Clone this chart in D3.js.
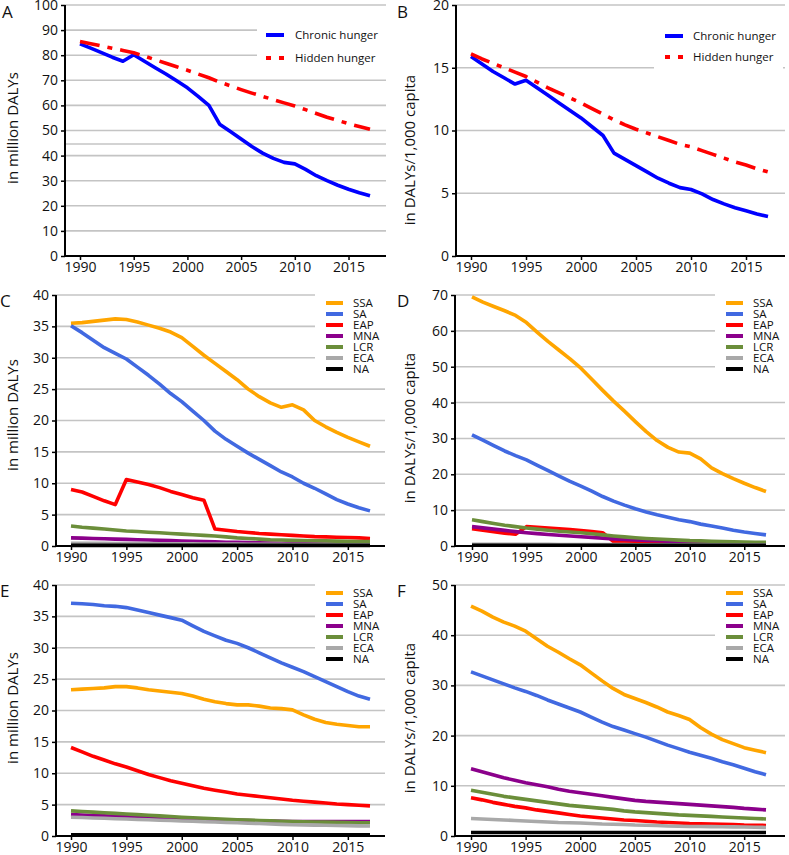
<!DOCTYPE html>
<html><head><meta charset="utf-8">
<script src="https://cdn.jsdelivr.net/npm/d3@7"></script>
<style>
body{margin:0;background:#fff;}
svg{display:block;font-family:"Open Sans",sans-serif;}
</style></head>
<body><svg id="c" width="789" height="855"></svg>
<script>
const years = [1990,1991,1992,1993,1994,1995,1996,1997,1998,1999,2000,2001,2002,2003,2004,2005,2006,2007,2008,2009,2010,2011,2012,2013,2014,2015,2016,2017];
const xTickYears = [1990,1995,2000,2005,2010,2015];
const hungerNames = ["Chronic hunger","Hidden hunger"];
const regionNames = ["SSA","SA","EAP","MNA","LCR","ECA","NA"];

// Panel A: million DALYs
const A_chronic = [84.5,82.8,81.0,79.2,77.6,80.2,77.6,75.0,72.5,69.8,67.0,63.6,60.0,52.5,49.6,46.6,43.6,41.0,38.9,37.3,36.7,34.5,32.0,30.0,28.2,26.6,25.2,24.0];
const A_hidden  = [85.5,84.6,83.7,82.8,81.9,81.0,79.6,78.2,76.8,75.4,74.0,72.5,71.0,69.3,67.8,66.3,64.9,63.6,62.3,61.0,59.8,58.3,56.8,55.3,54.0,52.7,51.6,50.5];
// Panel B: DALYs/1,000 capita
const B_chronic = [15.9,15.3,14.7,14.2,13.7,14.0,13.4,12.8,12.2,11.6,11.0,10.3,9.6,8.2,7.7,7.2,6.7,6.2,5.8,5.45,5.3,4.95,4.5,4.15,3.85,3.6,3.35,3.15];
const B_hidden  = [16.1,15.7,15.35,15.0,14.65,14.3,13.85,13.4,13.0,12.6,12.2,11.75,11.3,10.85,10.45,10.1,9.8,9.5,9.2,8.9,8.7,8.4,8.1,7.8,7.5,7.25,6.95,6.7];

// Panel C: chronic hunger by region, million DALYs
const C_SSA = [35.5,35.6,35.8,36.0,36.2,36.1,35.7,35.2,34.7,34.1,33.2,31.8,30.4,29.1,27.8,26.5,25.0,23.8,22.8,22.1,22.5,21.7,20.0,19.0,18.1,17.3,16.6,15.9];
const C_SA  = [35.1,34.0,32.8,31.6,30.7,29.8,28.5,27.2,25.8,24.3,23.0,21.5,20.0,18.3,17.0,15.9,14.8,13.8,12.8,11.8,11.0,10.0,9.2,8.3,7.4,6.7,6.1,5.6];
const C_EAP = [9.0,8.6,7.9,7.2,6.6,10.6,10.2,9.8,9.3,8.7,8.2,7.7,7.3,2.7,2.5,2.3,2.15,2.0,1.9,1.8,1.7,1.6,1.5,1.45,1.4,1.35,1.3,1.2];
const C_MNA = [1.3,1.25,1.2,1.15,1.1,1.05,1.0,0.95,0.9,0.85,0.8,0.75,0.7,0.65,0.6,0.57,0.54,0.51,0.48,0.45,0.43,0.41,0.39,0.37,0.35,0.33,0.32,0.3];
const C_LCR = [3.2,3.0,2.85,2.7,2.55,2.4,2.3,2.2,2.1,2.0,1.9,1.8,1.7,1.6,1.45,1.3,1.2,1.1,1.0,0.95,0.9,0.87,0.84,0.81,0.78,0.75,0.72,0.7];
const C_ECA = [0.45,0.44,0.43,0.42,0.41,0.4,0.39,0.38,0.37,0.36,0.35,0.34,0.33,0.32,0.31,0.3,0.29,0.28,0.27,0.26,0.25,0.24,0.23,0.22,0.21,0.2,0.2,0.2];
const C_NA  = [0.1,0.1,0.1,0.1,0.1,0.1,0.1,0.1,0.1,0.1,0.1,0.1,0.1,0.1,0.1,0.1,0.1,0.1,0.1,0.1,0.1,0.1,0.1,0.1,0.1,0.1,0.1,0.1];

// Panel D: chronic hunger by region, DALYs/1,000 capita
const D_SSA = [69.5,68.0,66.8,65.6,64.3,62.3,59.6,57.0,54.6,52.2,49.6,46.5,43.4,40.4,37.6,34.7,31.9,29.4,27.5,26.2,25.9,24.3,21.8,20.2,18.8,17.5,16.3,15.2];
const D_SA  = [31.0,29.5,28.0,26.5,25.2,24.0,22.5,21.0,19.5,18.0,16.7,15.3,13.8,12.5,11.4,10.4,9.5,8.7,8.0,7.3,6.8,6.1,5.6,5.0,4.4,3.9,3.5,3.1];
const D_EAP = [4.8,4.4,4.0,3.6,3.3,5.4,5.2,5.0,4.8,4.6,4.3,4.0,3.7,1.2,1.1,1.0,0.95,0.9,0.85,0.8,0.76,0.72,0.7,0.68,0.66,0.64,0.62,0.6];
const D_MNA = [5.4,5.05,4.7,4.35,4.0,3.7,3.45,3.2,3.0,2.8,2.6,2.4,2.2,2.0,1.85,1.7,1.58,1.46,1.34,1.22,1.1,1.04,0.98,0.92,0.86,0.8,0.75,0.7];
const D_LCR = [7.3,6.8,6.3,5.8,5.4,5.0,4.7,4.4,4.1,3.9,3.7,3.4,3.1,2.8,2.55,2.3,2.1,1.95,1.8,1.65,1.5,1.42,1.34,1.26,1.18,1.1,1.05,1.0];
const D_ECA = [0.5,0.5,0.49,0.48,0.47,0.46,0.45,0.44,0.43,0.42,0.41,0.4,0.39,0.38,0.37,0.36,0.35,0.34,0.33,0.32,0.32,0.31,0.31,0.3,0.3,0.3,0.3,0.3];
const D_NA  = [0.2,0.2,0.2,0.2,0.2,0.2,0.2,0.2,0.2,0.2,0.2,0.2,0.2,0.2,0.2,0.2,0.2,0.2,0.2,0.2,0.2,0.2,0.2,0.2,0.2,0.2,0.2,0.2];

// Panel E: hidden hunger by region, million DALYs
const E_SSA = [23.3,23.4,23.5,23.6,23.8,23.8,23.6,23.3,23.1,22.9,22.7,22.3,21.8,21.4,21.1,20.9,20.9,20.7,20.4,20.3,20.1,19.3,18.6,18.1,17.8,17.6,17.4,17.4];
const E_SA  = [37.1,37.0,36.9,36.7,36.6,36.4,36.0,35.6,35.2,34.8,34.4,33.5,32.6,31.9,31.2,30.7,30.0,29.2,28.4,27.6,26.9,26.2,25.4,24.6,23.8,23.0,22.3,21.8];
const E_EAP = [14.1,13.4,12.7,12.1,11.5,11.0,10.4,9.8,9.3,8.8,8.4,8.0,7.6,7.3,7.0,6.7,6.5,6.3,6.1,5.9,5.7,5.55,5.4,5.25,5.1,5.0,4.9,4.8];
const E_MNA = [3.4,3.33,3.26,3.2,3.14,3.08,3.02,2.96,2.9,2.85,2.8,2.74,2.68,2.62,2.56,2.5,2.46,2.42,2.38,2.34,2.3,2.3,2.3,2.3,2.3,2.3,2.3,2.3];
const E_LCR = [4.0,3.9,3.8,3.7,3.6,3.5,3.4,3.3,3.2,3.1,3.0,2.92,2.84,2.76,2.68,2.6,2.54,2.48,2.42,2.36,2.3,2.27,2.24,2.21,2.18,2.15,2.12,2.1];
const E_ECA = [3.0,2.94,2.88,2.82,2.76,2.7,2.64,2.58,2.52,2.46,2.4,2.34,2.28,2.22,2.16,2.1,2.04,1.98,1.92,1.86,1.8,1.77,1.74,1.71,1.68,1.65,1.62,1.6];
const E_NA  = [0.2,0.2,0.2,0.2,0.2,0.2,0.2,0.2,0.2,0.2,0.2,0.2,0.2,0.2,0.2,0.2,0.2,0.2,0.2,0.2,0.2,0.2,0.2,0.2,0.2,0.2,0.2,0.2];

// Panel F: hidden hunger by region, DALYs/1,000 capita
const F_SSA = [45.8,44.8,43.6,42.6,41.8,40.8,39.3,37.8,36.6,35.3,34.1,32.5,30.9,29.4,28.2,27.4,26.6,25.7,24.7,24.0,23.2,21.6,20.3,19.2,18.4,17.6,17.1,16.6];
const F_SA  = [32.7,31.9,31.1,30.3,29.5,28.8,28.0,27.1,26.3,25.5,24.7,23.7,22.7,21.8,21.1,20.4,19.7,18.9,18.1,17.4,16.7,16.1,15.5,14.8,14.2,13.5,12.8,12.2];
const F_EAP = [7.6,7.2,6.7,6.3,5.9,5.6,5.2,4.9,4.6,4.3,4.0,3.8,3.6,3.4,3.2,3.1,2.95,2.8,2.7,2.6,2.5,2.45,2.4,2.35,2.3,2.2,2.15,2.1];
const F_MNA = [13.4,12.8,12.2,11.6,11.1,10.6,10.2,9.8,9.3,8.9,8.6,8.3,8.0,7.7,7.4,7.1,6.9,6.75,6.6,6.45,6.3,6.15,6.0,5.85,5.7,5.5,5.35,5.2];
const F_LCR = [9.1,8.7,8.3,7.9,7.6,7.3,7.0,6.7,6.4,6.1,5.9,5.7,5.5,5.3,5.0,4.8,4.65,4.5,4.35,4.2,4.1,4.0,3.9,3.8,3.7,3.6,3.5,3.4];
const F_ECA = [3.5,3.4,3.3,3.2,3.1,3.0,2.9,2.8,2.7,2.65,2.6,2.5,2.4,2.35,2.3,2.2,2.15,2.1,2.0,1.95,1.9,1.88,1.86,1.84,1.82,1.8,1.75,1.7];
const F_NA  = [0.7,0.7,0.7,0.7,0.7,0.7,0.7,0.7,0.7,0.7,0.7,0.7,0.7,0.7,0.7,0.7,0.7,0.7,0.7,0.7,0.7,0.7,0.7,0.7,0.7,0.7,0.7,0.7];

const yTicksA = [0,10,20,30,40,50,60,70,80,90,100];
const yTicksB = [0,5,10,15,20];
const yTicksC = [0,5,10,15,20,25,30,35,40];
const yTicksD = [0,10,20,30,40,50,60,70];
const yTicksE = [0,5,10,15,20,25,30,35,40];
const yTicksF = [0,10,20,30,40,50];

const labelMillion = "in million DALYs";
const labelCapita = "in DALYs/1,000 capita";

const hungerColors = ["#0000ff","#ff0000"];
const regionColors = ["#ffa500","#4169e1","#ff0000","#8b008b","#6b8e3a","#a9a9a9","#000000"];

const svg = d3.select("#c");

function panel(cfg){
  const g = svg.append("g");
  const x = d3.scaleLinear().domain([1990,2017]).range([cfg.x1990, cfg.x2017]);
  const yMax = cfg.ticks[cfg.ticks.length-1];
  const y = d3.scaleLinear().domain([0,yMax]).range([cfg.yBottom, cfg.yTop]);
  // gridlines
  g.append("g").selectAll("line").data(cfg.ticks.filter(t=>t>0).concat(cfg.extraGrid||[])).join("line")
    .attr("x1", cfg.axisX).attr("x2", cfg.right)
    .attr("y1", d=>y(d)).attr("y2", d=>y(d))
    .attr("stroke","#c4c4c4").attr("stroke-width",1.6);
  // legend background (covers gridlines)
  g.append("rect").attr("x",cfg.legRect[0]).attr("y",cfg.legRect[1]).attr("width",cfg.legRect[2]).attr("height",cfg.legRect[3]).attr("fill","#fff");
  // y axis
  const yAxis = d3.axisLeft(y).tickValues(cfg.ticks).tickSize(4).tickPadding(3).tickFormat(d3.format("d"));
  const ya = g.append("g").attr("transform",`translate(${cfg.axisX},0)`).call(yAxis);
  ya.select(".domain").attr("stroke","#000").attr("stroke-width",2).attr("d",`M0,${cfg.yTop}V${cfg.yBottom}`);
  ya.selectAll(".tick line").attr("stroke","#000").attr("stroke-width",1.5);
  ya.selectAll(".tick text").attr("font-size",14).attr("font-family","Open Sans").attr("fill","#111");
  // x axis
  const xAxis = d3.axisBottom(x).tickValues(xTickYears).tickSize(4).tickPadding(2).tickFormat(d3.format("d"));
  const xa = g.append("g").attr("transform",`translate(0,${cfg.yBottom})`).call(xAxis);
  xa.select(".domain").attr("stroke","#000").attr("stroke-width",2).attr("d",`M${cfg.axisX-1},0H${cfg.right}`);
  xa.selectAll(".tick line").attr("stroke","#000").attr("stroke-width",1.5);
  xa.selectAll(".tick text").attr("font-size",14).attr("font-family","Open Sans").attr("fill","#111");
  // lines
  const line = d3.line().x((d,i)=>x(years[i])).y(d=>y(d)).curve(d3.curveLinear);
  cfg.series.forEach((s,i)=>{
    g.append("path").attr("d",line(s)).attr("fill","none")
      .attr("stroke",cfg.colors[i]).attr("stroke-width",cfg.lw)
      .attr("stroke-linejoin","round")
      .attr("stroke-dasharray", cfg.dash && cfg.dash[i] ? cfg.dash[i] : null);
  });
  // legend
  const lg = g.append("g");
  cfg.names.forEach((n,i)=>{
    const ly = cfg.leg.y + i*cfg.leg.dy;
    lg.append("line").attr("x1",cfg.leg.x).attr("x2",cfg.leg.x+cfg.leg.len).attr("y1",ly).attr("y2",ly)
      .attr("stroke",cfg.colors[i]).attr("stroke-width",cfg.leg.lw)
      .attr("stroke-dasharray", cfg.leg.dash && cfg.leg.dash[i] ? cfg.leg.dash[i] : null);
    lg.append("text").attr("x",cfg.leg.tx).attr("y",ly).attr("dy","0.35em")
      .attr("font-size",cfg.leg.fs).attr("fill","#111").text(n);
  });
  // panel letter
  g.append("text").attr("x",cfg.letterX).attr("y",cfg.letterY).attr("font-size",17).attr("fill","#111").text(cfg.letter);
  // y label
  g.append("text").attr("transform",`translate(${cfg.labX},${cfg.labY}) rotate(-90)`)
    .attr("text-anchor","middle").attr("dy","0.35em").attr("font-size",15).attr("fill","#111").text(cfg.label);
}

const hiddenDash = "20,8,5,8";
panel({letter:"A", letterX:2, letterY:18, label:labelMillion, labX:13, labY:128,
  axisX:65, right:386, x1990:80, x2017:370, yTop:5, yBottom:256, ticks:yTicksA, extraGrid:[44.6],
  series:[A_chronic, A_hidden], colors:hungerColors, names:hungerNames, lw:3.6, dash:[null,hiddenDash],
  legRect:[257,18,129,50], leg:{x:266,len:18,y:35,dy:23,tx:295,fs:11.5,lw:4,dash:[null,"5,8"]}});
panel({letter:"B", letterX:397, letterY:18, label:labelCapita, labX:410, labY:150,
  axisX:456, right:785, x1990:471, x2017:768, yTop:5, yBottom:256, ticks:yTicksB,
  series:[B_chronic, B_hidden], colors:hungerColors, names:hungerNames, lw:3.6, dash:[null,hiddenDash],
  legRect:[654,18,129,60], leg:{x:665,len:18,y:36,dy:21,tx:693,fs:11.5,lw:4,dash:[null,"5,8"]}});
panel({letter:"C", letterX:0, letterY:307, label:labelMillion, labX:13, labY:415,
  axisX:56, right:385, x1990:71, x2017:370, yTop:295, yBottom:546, ticks:yTicksC,
  series:[C_SSA,C_SA,C_EAP,C_MNA,C_LCR,C_ECA,C_NA], colors:regionColors, names:regionNames, lw:3.6,
  legRect:[315,290,71,85], leg:{x:326,len:17,y:303,dy:11,tx:353,fs:11.5,lw:4}});
panel({letter:"D", letterX:397, letterY:307, label:labelCapita, labX:410, labY:428,
  axisX:455, right:785, x1990:472, x2017:766, yTop:295, yBottom:546, ticks:yTicksD,
  series:[D_SSA,D_SA,D_EAP,D_MNA,D_LCR,D_ECA,D_NA], colors:regionColors, names:regionNames, lw:3.6,
  legRect:[715,290,70,85], leg:{x:726,len:17,y:303,dy:11,tx:753,fs:11.5,lw:4}});
panel({letter:"E", letterX:0, letterY:597, label:labelMillion, labX:13, labY:708,
  axisX:56, right:385, x1990:71, x2017:370, yTop:585, yBottom:836, ticks:yTicksE,
  series:[E_SSA,E_SA,E_EAP,E_MNA,E_LCR,E_ECA,E_NA], colors:regionColors, names:regionNames, lw:3.6,
  legRect:[315,580,71,85], leg:{x:326,len:17,y:593,dy:11,tx:353,fs:11.5,lw:4}});
panel({letter:"F", letterX:397, letterY:597, label:labelCapita, labX:410, labY:718,
  axisX:455, right:785, x1990:471, x2017:766, yTop:585, yBottom:836, ticks:yTicksF,
  series:[F_SSA,F_SA,F_EAP,F_MNA,F_LCR,F_ECA,F_NA], colors:regionColors, names:regionNames, lw:3.6,
  legRect:[715,588,70,80], leg:{x:726,len:17,y:593,dy:11,tx:753,fs:11.5,lw:4}});
</script></body></html>
